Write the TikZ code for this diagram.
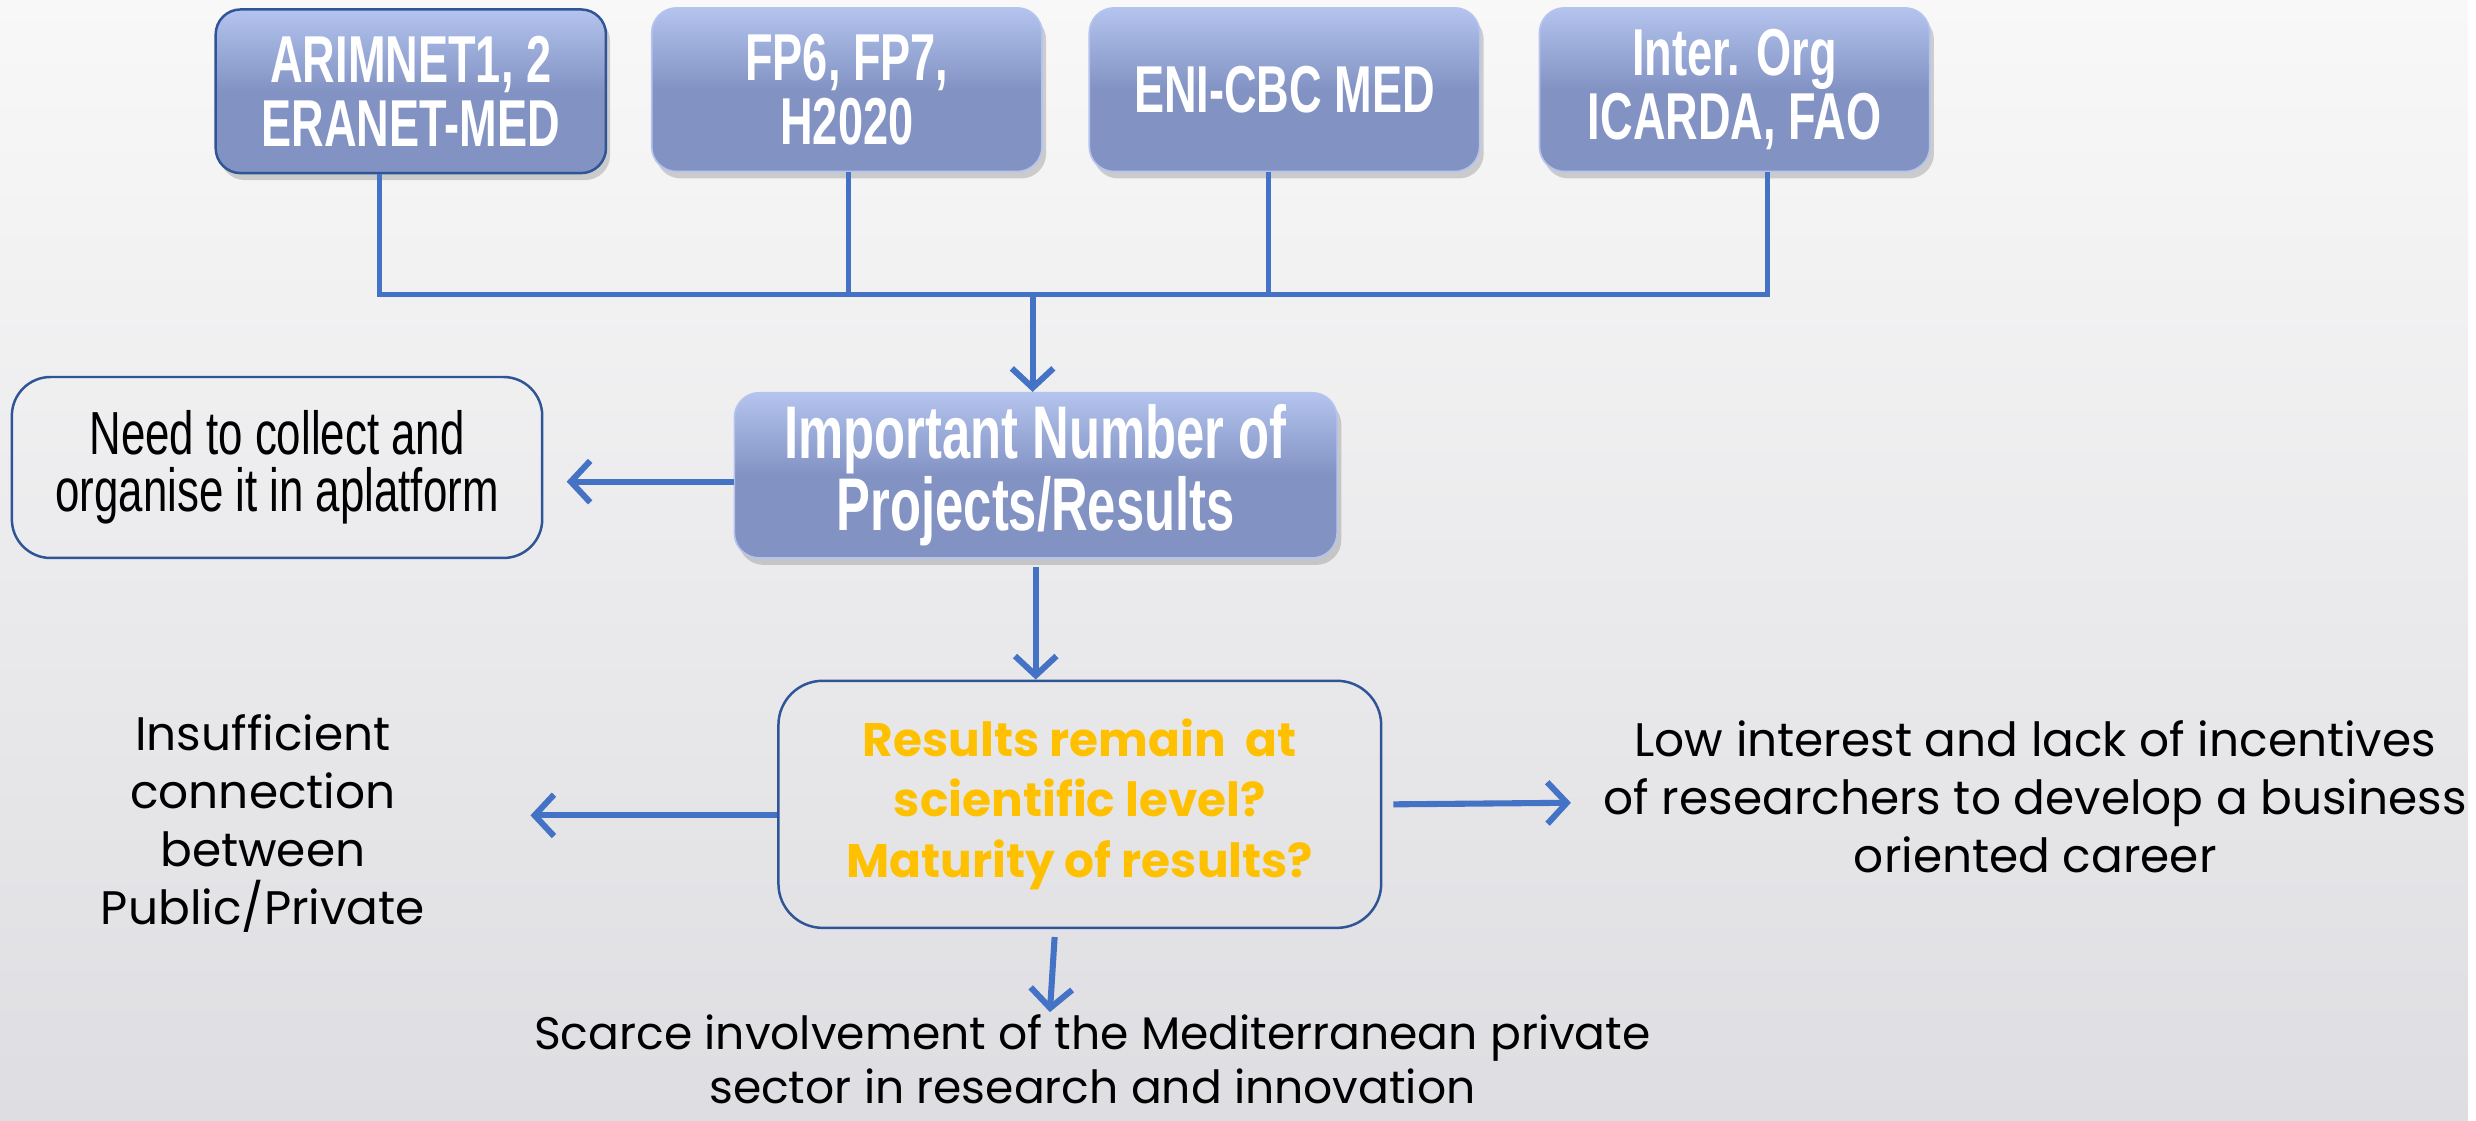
\documentclass[tikz,border=0pt]{standalone}
\usepackage{fontspec}
\setmainfont{Liberation Sans}
\newfontfamily\boxfont[FakeStretch=0.68]{Liberation Sans}
\newfontfamily\needfont[FakeStretch=0.72]{Liberation Sans}
\newfontfamily\gothfont{Poppins}
\usetikzlibrary{arrows.meta,shadows}
\definecolor{linkblue}{HTML}{4472C4}
\definecolor{boxtop}{HTML}{B4C4EE}
\definecolor{boxbot}{HTML}{8292C3}
\definecolor{edge}{HTML}{2F5597}
\definecolor{gold}{HTML}{FFC000}
\definecolor{bgtop}{HTML}{F8F8F8}
\definecolor{bgbot}{HTML}{DEDEE2}
\begin{document}
\begin{tikzpicture}[x=0.02cm,y=-0.02cm,
fund/.style={rounded corners=9pt,minimum width=4.96cm,minimum height=2.08cm,inner sep=0pt,
  top color=boxtop,bottom color=boxbot,middle color=boxbot,draw=boxtop,line width=0.6pt,
  drop shadow={opacity=0.35,shadow xshift=1.5pt,shadow yshift=-2.5pt},
  align=center,text=white,font=\boxfont\bfseries\fontsize{24}{23}\selectfont},
outl/.style={draw=edge,line width=0.9pt,rounded corners=14pt,align=center},
link/.style={draw=linkblue,line width=1.6pt},
arr/.style={link,line width=2.2pt,-{Straight Barb[length=7pt,width=15pt,line width=2.2pt]}},
plain/.style={align=center,font=\gothfont\fontsize{17}{21}\selectfont}]
\shade[top color=bgtop,bottom color=bgbot] (0,0) rectangle (1568,712);

\node[fund,draw=edge,line width=0.9pt] (b1) at (261,58) {ARIMNET1, 2\\ERANET-MED};
\node[fund] (b2) at (538,57) {FP6, FP7,\\H2020};
\node[fund] (b3) at (816,57) {ENI-CBC MED};
\node[fund] (b4) at (1102,57) {Inter. Org\\ICARDA, FAO};

\coordinate (j1) at (241,187);
\coordinate (j2) at (539,187);
\coordinate (j3) at (806,187);
\coordinate (j4) at (1123,187);
\coordinate (jm) at (656,187);
\draw[link] (b1.south -| j1) -- (j1) -- (j4) -- (b4.south -| j4);
\draw[link] (b2.south -| j2) -- (j2) (b3.south -| j3) -- (j3);

\node[fund,minimum width=7.66cm,minimum height=2.1cm,font=\boxfont\bfseries\fontsize{27}{26}\selectfont] (imp) at (658,302) {Important Number of\\Projects/Results};
\draw[arr] (jm) -- (imp.north -| jm);

\node[outl,minimum width=6.74cm,minimum height=2.3cm,font=\needfont\fontsize{22}{20.5}\selectfont] (need) at (176,297) {Need to collect and\\organise it in aplatform};
\coordinate (tn) at (360,306);
\draw[arr] (imp.west |- tn) -- (tn);

\node[outl,minimum width=7.66cm,minimum height=3.14cm,rounded corners=16pt,text=gold,font=\gothfont\bfseries\fontsize{17}{22}\selectfont] (quest) at (686,511) {Results remain\ \ at\\scientific level?\\Maturity of results?};
\draw[arr,shorten <=3pt] (imp.south) -- (imp.south |- quest.north);

\node[plain] (insuf) at (167,523) {Insufficient\\connection\\between\\Public/Private};
\coordinate (tl) at (337,518);
\draw[arr] (quest.west |- tl) -- (tl);

\node[plain] (low) at (1293,506) {Low interest and lack of incentives\\of researchers to develop a business\\oriented career};
\coordinate (tr) at (998,510);
\draw[arr] ([xshift=0.14cm]quest.east) -- (tr);

\node[plain,font=\gothfont\fontsize{16.5}{19.5}\selectfont] (scarce) at (694,673) {Scarce involvement of the Mediterranean private\\sector in research and innovation};
\coordinate (tb) at (667,643);
\draw[arr] ([shift={(-0.32cm,-0.1cm)}]quest.south) -- (tb);
\end{tikzpicture}
\end{document}
